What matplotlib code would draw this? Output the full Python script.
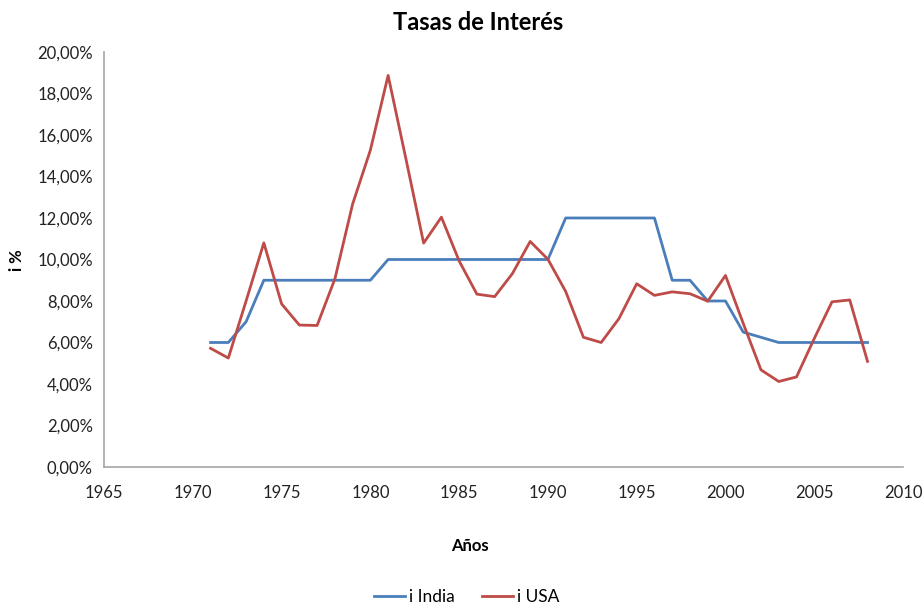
import matplotlib
matplotlib.use("Agg")
import matplotlib.pyplot as plt
from matplotlib.ticker import FuncFormatter

# data
years = list(range(1971, 2009))
i_india = [6, 6, 7, 9, 9, 9, 9, 9, 9, 9,
           10, 10, 10, 10, 10, 10, 10, 10, 10, 10,
           12, 12, 12, 12, 12, 12, 9, 9, 8, 8,
           6.5, 6.25, 6, 6, 6, 6, 6, 6]
i_usa = [5.72, 5.25, 8.0, 10.8, 7.86, 6.84, 6.82, 9.06, 12.67, 15.27,
         18.87, 14.86, 10.79, 12.04, 9.93, 8.33, 8.21, 9.32, 10.87, 10.01,
         8.46, 6.25, 6.0, 7.15, 8.83, 8.27, 8.44, 8.35, 7.99, 9.23,
         6.92, 4.68, 4.12, 4.34, 6.19, 7.96, 8.05, 5.09]
x_ticks = [1965, 1970, 1975, 1980, 1985, 1990, 1995, 2000, 2005, 2010]
y_ticks = [0, 2, 4, 6, 8, 10, 12, 14, 16, 18, 20]

plt.rcParams['font.family'] = ['Lato', 'DejaVu Sans']

fig = plt.figure(figsize=(9.24, 6.06), dpi=100)
ax = fig.add_axes([0.1126, 0.2294, 0.8647, 0.6848])

ax.plot(years, i_india, color='#4a7ebb', linewidth=2.0, label='i India')
ax.plot(years, i_usa, color='#be4b48', linewidth=2.0, label='i USA')

ax.set_xlim(1965, 2010)
ax.set_ylim(0, 20)
ax.set_xticks(x_ticks)
ax.set_yticks(y_ticks)
ax.yaxis.set_major_formatter(FuncFormatter(lambda v, p: ('%.2f%%' % v).replace('.', ',')))
ax.tick_params(length=0, labelsize=12, colors='#222222', pad=8)
ax.tick_params(axis='x', pad=13)

for s in ['top', 'right']:
    ax.spines[s].set_visible(False)
for s in ['left', 'bottom']:
    ax.spines[s].set_color('#a6a6a6')
    ax.spines[s].set_linewidth(1.2)

fig.text(0.517, 0.963, 'Tasas de Interés', ha='center', va='center', fontsize=17, fontweight='bold')
fig.text(0.509, 0.099, 'Años', ha='center', va='center', fontsize=12, fontweight='bold')
fig.text(0.018, 0.57, 'i %', ha='center', va='center', fontsize=12, fontweight='bold', rotation=90)

fig.legend(loc='center', bbox_to_anchor=(0.505, 0.015), ncol=2, frameon=False, fontsize=12.5,
           handlelength=1.8, handletextpad=0.2, columnspacing=1.6)

fig.savefig('out.png', dpi=100)
